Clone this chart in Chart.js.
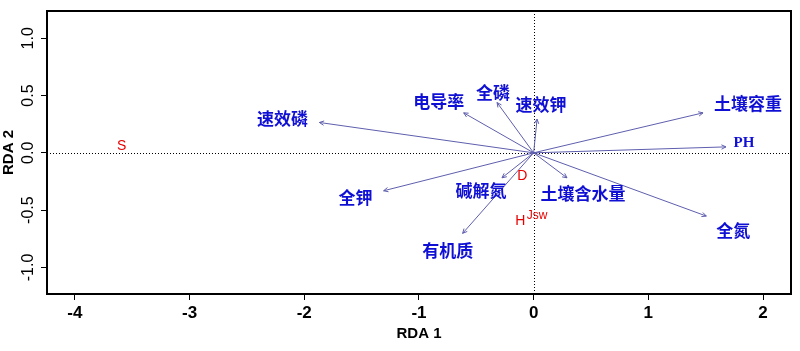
<!DOCTYPE html>
<html>
<head>
<meta charset="utf-8">
<script src="https://cdn.jsdelivr.net/npm/chart.js@4/dist/chart.umd.min.js"></script>
<style>
  html, body { margin: 0; padding: 0; background: #ffffff; }
  #wrap { width: 800px; height: 351px; }
</style>
</head>
<body>
<div id="wrap"><canvas id="c" width="800" height="351"></canvas></div>
<script>
// ---- data ----
const envNames = ['速效磷', '全钾', '电导率', '全磷', '速效钾', '土壤容重', 'PH', '全氮', '土壤含水量', '碱解氮', '有机质'];
const envX = [-1.868, -1.308, -0.610, -0.319, 0.030, 1.477, 1.677, 1.506, 0.291, -0.276, -0.619];
const envY = [0.265, -0.331, 0.349, 0.439, 0.294, 0.349, 0.052, -0.552, -0.218, -0.218, -0.703];

const siteNames = ['S', 'D', 'H', 'Jsw'];
const siteX = [-3.592, -0.099, -0.116, 0.029];
const siteY = [0.061, -0.201, -0.595, -0.552];

const xTicks = [-4, -3, -2, -1, 0, 1, 2];
const yTicks = [-1.0, -0.5, 0.0, 0.5, 1.0];
const yTickLabels = ['-1.0', '-0.5', '0.0', '0.5', '1.0'];

// ---- layout / style (pixel offsets of label centres from arrow tips) ----
const envLabelOffset = [
  [-37, -4], [-28, 7], [-25, -11], [-4, -10], [4, -15], [45, -9],
  [18, -4], [27, 14], [16, 16], [-21, 13], [-15, 17]
];
const arrowColor = '#5e5eae';
const blueText = '#1010d4';
const redText = '#e80000';

const arrowDatasets = envNames.map((n, i) => ({
  label: n,
  data: [{x: 0, y: 0}, {x: envX[i], y: envY[i]}],
  showLine: true,
  borderColor: arrowColor,
  borderWidth: 1,
  pointRadius: 0,
  fill: false
}));
const siteDataset = {
  label: 'sites',
  data: siteX.map((x, i) => ({x: x, y: siteY[i]})),
  showLine: false,
  pointRadius: 0
};

const biplotPlugin = {
  id: 'biplot',
  beforeDatasetsDraw(chart) {
    const {ctx, chartArea: a, scales: {x, y}} = chart;
    ctx.save();
    ctx.strokeStyle = '#000';
    ctx.lineWidth = 1;
    ctx.setLineDash([1, 2]);
    const x0 = Math.round(x.getPixelForValue(0)) + 0.5;
    const y0 = Math.round(y.getPixelForValue(0)) + 0.5;
    ctx.beginPath();
    ctx.moveTo(a.left, y0); ctx.lineTo(a.right, y0);
    ctx.moveTo(x0, a.top); ctx.lineTo(x0, a.bottom);
    ctx.stroke();
    ctx.restore();
  },
  afterDatasetsDraw(chart) {
    const {ctx, chartArea: a, scales: {x, y}} = chart;
    ctx.save();
    // arrow heads
    ctx.strokeStyle = arrowColor;
    ctx.lineWidth = 1;
    const ox = x.getPixelForValue(0), oy = y.getPixelForValue(0);
    envNames.forEach((n, i) => {
      const px = x.getPixelForValue(envX[i]), py = y.getPixelForValue(envY[i]);
      const ang = Math.atan2(py - oy, px - ox);
      const L = 5, w = Math.PI / 7;
      ctx.beginPath();
      ctx.moveTo(px - L * Math.cos(ang - w), py - L * Math.sin(ang - w));
      ctx.lineTo(px, py);
      ctx.lineTo(px - L * Math.cos(ang + w), py - L * Math.sin(ang + w));
      ctx.stroke();
    });
    // env labels
    ctx.textAlign = 'center';
    ctx.textBaseline = 'middle';
    ctx.fillStyle = blueText;
    envNames.forEach((n, i) => {
      const px = x.getPixelForValue(envX[i]) + envLabelOffset[i][0];
      const py = y.getPixelForValue(envY[i]) + envLabelOffset[i][1];
      if (n === 'PH') {
        ctx.font = 'bold 15px "Liberation Serif"';
      } else {
        ctx.font = 'bold 17px "Noto Sans CJK SC"';
      }
      ctx.fillText(n, px, py);
    });
    // site labels
    ctx.fillStyle = redText;
    siteNames.forEach((n, i) => {
      ctx.font = (n.length > 1 ? '12px' : '14px') + ' "Liberation Sans"';
      ctx.fillText(n, x.getPixelForValue(siteX[i]), y.getPixelForValue(siteY[i]));
    });
    ctx.restore();
  },
  afterDraw(chart) {
    const {ctx, chartArea: a, scales: {y}} = chart;
    ctx.save();
    ctx.strokeStyle = '#000';
    ctx.lineWidth = 2;
    ctx.strokeRect(a.left, a.top, a.right - a.left, a.bottom - a.top);
    // rotated y tick labels (R style)
    ctx.fillStyle = '#000';
    ctx.font = '16px "Liberation Sans"';
    ctx.textAlign = 'center';
    ctx.textBaseline = 'middle';
    y.ticks.forEach((t, i) => {
      const py = y.getPixelForValue(t.value);
      ctx.save();
      ctx.translate(29, py);
      ctx.rotate(-Math.PI / 2);
      ctx.fillText(yTickLabels[i], 0, 0);
      ctx.restore();
    });
    ctx.restore();
  }
};

new Chart(document.getElementById('c'), {
  type: 'scatter',
  data: { datasets: [...arrowDatasets, siteDataset] },
  plugins: [biplotPlugin],
  options: {
    responsive: false,
    animation: false,
    events: [],
    layout: { padding: { left: 0, right: 9, top: 11, bottom: 0 } },
    plugins: { legend: { display: false }, tooltip: { enabled: false } },
    scales: {
      x: {
        type: 'linear',
        min: -4.243, max: 2.244,
        afterBuildTicks: s => { s.ticks = xTicks.map(v => ({value: v})); },
        afterFit: s => { s.height = 57; },
        grid: { drawOnChartArea: false, drawTicks: true, tickLength: 6, color: '#000', lineWidth: 1 },
        border: { display: true, color: '#000', width: 2 },
        ticks: {
          color: '#000', padding: 3,
          font: { family: '"Liberation Sans"', size: 17, weight: 'bold' },
          callback: v => String(v)
        },
        title: {
          display: true, text: 'RDA 1', color: '#000',
          font: { family: '"Liberation Sans"', size: 15, weight: 'bold' },
          padding: { top: 0, bottom: 8 }
        }
      },
      y: {
        type: 'linear',
        min: -1.232, max: 1.238,
        afterBuildTicks: s => { s.ticks = yTicks.map(v => ({value: v})); },
        afterFit: s => { s.width = 47; },
        grid: { drawOnChartArea: false, drawTicks: true, tickLength: 6, color: '#000', lineWidth: 1 },
        border: { display: true, color: '#000', width: 2 },
        ticks: { display: false },
        title: {
          display: true, text: 'RDA 2', color: '#000',
          font: { family: '"Liberation Sans"', size: 15, weight: 'bold' },
          padding: { top: 0, bottom: 0 }
        }
      }
    }
  }
});
</script>
</body>
</html>
